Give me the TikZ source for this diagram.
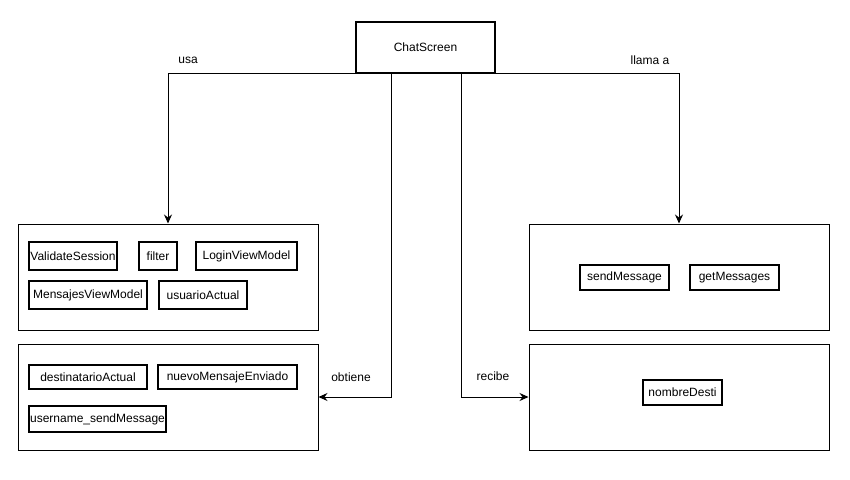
\documentclass[tikz,border=0pt]{standalone}
\usepackage{fontspec}
\setmainfont{Liberation Sans}
\usetikzlibrary{arrows.meta}
\begin{document}
\begin{tikzpicture}[x=1pt,y=-1pt,
  every node/.style={font=\fontsize{12}{14}\selectfont, inner sep=0pt},
  outerbox/.style={draw, line width=1pt, minimum width=300pt, minimum height=106pt},
  itembox/.style={draw, line width=2pt},
  mainbox/.style={draw, line width=2pt, minimum width=139pt, minimum height=51pt},
  conn/.style={line width=1pt, -{Stealth[length=9pt,width=8pt,inset=3pt]}},
  lbl/.style={}
]
\useasboundingbox[fill=white] (0,0) rectangle (850,479);

\node[mainbox] (chat) at (425.5,47) {ChatScreen};

\node[outerbox] (b1) at (168,277) {};
\node[outerbox] (b2) at (168,397) {};
\node[outerbox] (b3) at (679,277) {};
\node[outerbox] (b4) at (679,397) {};

\node[itembox, minimum width=88pt, minimum height=28pt] (vs) at (73,256) {ValidateSession};
\node[itembox, minimum width=38pt, minimum height=28pt] (fi) at (158,256) {filter};
\node[itembox, minimum width=101pt, minimum height=28pt] (lv) at (246.5,256) {LoginViewModel};
\node[itembox, minimum width=118pt, minimum height=28pt] (mv) at (88,295) {MensajesViewModel};
\node[itembox, minimum width=88pt, minimum height=28pt] (ua) at (203,295) {usuarioActual};

\node[itembox, minimum width=118pt, minimum height=24pt] (da) at (88,377) {destinatarioActual};
\node[itembox, minimum width=139pt, minimum height=24pt] (nm) at (227.5,377) {nuevoMensajeEnviado};
\node[itembox, minimum width=137pt, minimum height=26pt] (us) at (97.5,419) {username\_sendMessage};

\node[itembox, minimum width=89pt, minimum height=25pt] (sm) at (624.5,277.5) {sendMessage};
\node[itembox, minimum width=89pt, minimum height=25pt] (gm) at (734.5,277.5) {getMessages};
\node[itembox, minimum width=79pt, minimum height=25pt] (nd) at (682.5,392.5) {nombreDesti};

\draw[conn] (chat.south west) -| (b1.north);
\draw[conn] (chat.south east) -| (b3.north);
\draw[conn] ([xshift=-34.5pt]chat.south) |- (b2.east);
\draw[conn] ([xshift=35.5pt]chat.south) |- (b4.west);

\node[lbl] (l1) at (188,60) {usa};
\node[lbl] (l2) at (650,60) {llama a};
\node[lbl] (l3) at (351,377) {obtiene};
\node[lbl] (l4) at (493,376) {recibe};
\end{tikzpicture}
\end{document}
